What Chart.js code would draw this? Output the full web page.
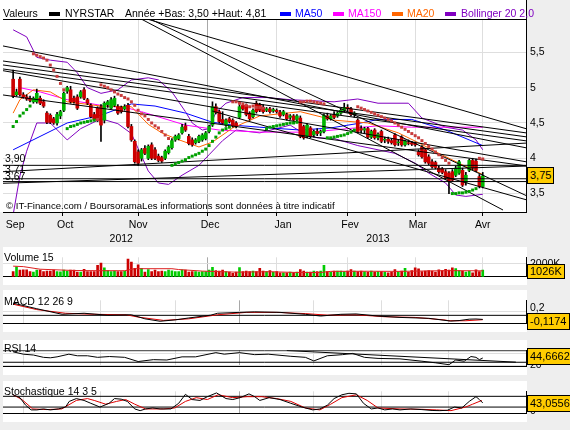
<!DOCTYPE html>
<html lang="fr">
<head>
<meta charset="utf-8">
<title>NYRSTAR</title>
<script src="https://cdn.jsdelivr.net/npm/chart.js@4.4.1/dist/chart.umd.min.js"></script>
<style>
  html, body { margin: 0; padding: 0; }
  body { background: #eeeeee; font-family: "Liberation Sans", Arial, sans-serif; }
  #page { position: relative; width: 570px; height: 430px; overflow: hidden; }
  .panel { position: absolute; background: #fff; }
  canvas { position: absolute; left: 0; }
  .lbl { position: absolute; font-size: 10.5px; line-height: 13px; white-space: nowrap; color: #000; z-index: 5; }
  .sw { position: absolute; top: 12px; width: 11px; height: 4px; z-index: 5; }
  .val { position: absolute; left: 527px; background: #ffcc00; border: 1px solid #000; font-size: 11px; line-height: 15px; padding: 0 2px; z-index: 6; white-space: nowrap; }
  .rule { position: absolute; background: #000; z-index: 4; }
</style>
</head>
<body>
<div id="page">
  <div class="panel" style="left:0;top:0;width:527px;height:212px"></div>
  <div class="panel" style="left:3px;top:247px;width:524px;height:38px"></div>
  <div class="panel" style="left:3px;top:290px;width:524px;height:42px"></div>
  <div class="panel" style="left:3px;top:340px;width:524px;height:35px"></div>
  <div class="panel" style="left:3px;top:381px;width:524px;height:41px"></div>

  <canvas id="main" width="570" height="247" style="top:0"></canvas>
  <canvas id="vol" width="570" height="40" style="top:247px"></canvas>
  <canvas id="macd" width="570" height="44" style="top:290px"></canvas>
  <canvas id="rsi" width="570" height="37" style="top:340px"></canvas>
  <canvas id="sto" width="570" height="43" style="top:381px"></canvas>

  <div class="rule" style="left:3px;top:19px;width:523px;height:1px"></div>
  <div class="rule" style="left:526px;top:0;width:1px;height:19px"></div>

  <div class="lbl" style="left:3px;top:7px">Valeurs</div>
  <div class="sw" style="left:49px;background:#000"></div>
  <div class="lbl" style="left:65px;top:7px">NYRSTAR</div>
  <div class="lbl" style="left:125px;top:7px">Année +Bas: 3,50 +Haut: 4,81</div>
  <div class="sw" style="left:280px;background:#0000ff"></div>
  <div class="lbl" style="left:295px;top:7px;color:#0000ff">MA50</div>
  <div class="sw" style="left:333px;background:#ff00ff"></div>
  <div class="lbl" style="left:348px;top:7px;color:#ff00ff">MA150</div>
  <div class="sw" style="left:392px;background:#ff6600"></div>
  <div class="lbl" style="left:407px;top:7px;color:#ff6600">MA20</div>
  <div class="sw" style="left:445px;background:#8000c0"></div>
  <div class="lbl" style="left:461px;top:7px;color:#8000c0">Bollinger 20 2,0</div>

  <div class="lbl" style="left:5px;top:152px">3,90</div>
  <div class="lbl" style="left:5px;top:163px">3,71</div>
  <div class="lbl" style="left:5px;top:170px">3,67</div>
  <div class="lbl" style="left:6px;top:199px;font-size:9.6px">© IT-Finance.com / BoursoramaLes informations sont données à titre indicatif</div>

  <div class="lbl" style="left:4px;top:251px">Volume 15</div>
  <div class="lbl" style="left:4px;top:295px">MACD 12 26 9</div>
  <div class="lbl" style="left:4px;top:342px">RSI 14</div>
  <div class="lbl" style="left:4px;top:385px">Stochastique 14 3 5</div>

  <div class="val" style="top:167px">3,75</div>
  <div class="val" style="top:264px;line-height:13px">1026K</div>
  <div class="val" style="top:313px">-0,1174</div>
  <div class="val" style="top:348px">44,6662</div>
  <div class="val" style="top:395px">43,0556</div>
</div>

<script>
// ---- data (index 0 = 26 Sep 2012, one step per trading day) ----
const monthStarts = [3, 26, 48, 67, 89, 109, 129];
const monthLabels = ['Sep', 'Oct', 'Nov', 'Dec', 'Jan', 'Fev', 'Mar', 'Avr'];
const monthCenters = [0.6, 15.4, 37, 58.3, 79.9, 99.7, 119.8, 139];
const yearLabels = ['2012', '2013'];
const yearCenters = [32, 108];

const opens = [5.12,4.90,5.12,4.90,4.87,4.85,4.80,4.80,4.85,4.80, 4.64,4.61,4.56,4.50,4.60,4.68,4.95,4.97,4.85,4.87,
  4.87,4.97,4.83,4.75,4.62,4.71,4.73,4.54,4.76,4.71, 4.75,4.73,4.72,4.70,4.75,4.45,4.24,4.09,4.00,4.14,
  4.00,4.19,4.12,4.03,4.01,4.00,4.08,4.15,4.26,4.28, 4.36,4.46,4.31,4.26,4.22,4.24,4.26,4.28,4.38,4.47,
  4.73,4.66,4.55,4.47,4.56,4.54,4.50,4.58,4.75,4.75, 4.64,4.59,4.78,4.76,4.72,4.68,4.70,4.67,4.68,4.65,
  4.62,4.62,4.58,4.60,4.55,4.57,4.45,4.31,4.43,4.33, 4.38,4.36,4.38,4.60,4.56,4.62,4.60,4.64,4.68,4.72,
  4.70,4.62,4.54,4.42,4.40,4.42,4.30,4.40,4.29,4.38, 4.26,4.27,4.25,4.33,4.22,4.30,4.19,4.22,4.22,4.21,
  4.09,4.16,4.12,4.02,3.95,3.94,3.86,3.85,3.81,3.79, 3.81,3.76,3.79,3.83,3.66,3.83,3.97,3.96,3.74,3.60];
const highs = [5.25,4.98,5.15,4.93,4.90,4.88,4.87,4.98,4.88,4.83, 4.66,4.63,4.58,4.65,4.68,4.94,5.02,5.02,4.88,4.90,
  4.96,5.00,4.85,4.77,4.65,4.73,4.76,4.80,4.82,4.86, 4.88,4.76,4.74,4.76,4.78,4.48,4.26,4.12,4.14,4.18,
  4.19,4.22,4.15,4.06,4.03,4.12,4.18,4.28,4.33,4.35, 4.48,4.50,4.34,4.29,4.28,4.33,4.35,4.38,4.47,4.80,
  4.77,4.68,4.66,4.56,4.58,4.56,4.52,4.76,4.78,4.77, 4.66,4.70,4.81,4.78,4.76,4.72,4.72,4.71,4.70,4.68,
  4.68,4.64,4.62,4.62,4.62,4.60,4.47,4.49,4.45,4.40, 4.42,4.40,4.63,4.64,4.62,4.66,4.66,4.70,4.78,4.76,
  4.72,4.66,4.56,4.46,4.44,4.44,4.40,4.42,4.36,4.40, 4.30,4.30,4.28,4.35,4.26,4.32,4.26,4.26,4.24,4.23,
  4.12,4.18,4.14,4.05,3.98,3.96,3.89,3.87,3.84,3.81, 3.84,3.89,3.97,3.86,3.80,3.99,4.00,3.99,3.77,3.80];
const lows = [4.86,4.88,4.88,4.85,4.82,4.80,4.78,4.78,4.76,4.72, 4.49,4.49,4.48,4.47,4.56,4.66,4.92,4.78,4.78,4.69,
  4.85,4.83,4.76,4.57,4.53,4.52,4.24,4.50,4.72,4.70, 4.73,4.62,4.64,4.68,4.43,4.24,3.93,3.90,3.96,4.05,
  3.98,3.98,3.98,3.95,3.94,3.98,4.06,4.13,4.24,4.26, 4.34,4.38,4.19,4.17,4.20,4.22,4.24,4.26,4.36,4.45,
  4.63,4.50,4.48,4.45,4.50,4.44,4.43,4.56,4.68,4.60, 4.54,4.57,4.64,4.66,4.64,4.66,4.64,4.65,4.64,4.58,
  4.60,4.54,4.55,4.52,4.53,4.29,4.27,4.29,4.29,4.30, 4.32,4.32,4.36,4.54,4.54,4.56,4.58,4.62,4.66,4.66,
  4.60,4.58,4.36,4.36,4.35,4.28,4.28,4.27,4.26,4.22, 4.22,4.21,4.20,4.17,4.18,4.17,4.17,4.19,4.18,4.17,
  4.03,4.00,3.93,3.91,3.86,3.85,3.79,3.78,3.70,3.50, 3.67,3.74,3.77,3.60,3.62,3.81,3.84,3.81,3.58,3.58];
const closes = [4.88,4.94,4.90,4.87,4.84,4.82,4.85,4.92,4.78,4.74, 4.51,4.51,4.50,4.62,4.66,4.92,5.00,4.80,4.80,4.71,
  4.94,4.85,4.78,4.59,4.55,4.54,4.47,4.78,4.80,4.83, 4.85,4.64,4.66,4.73,4.45,4.26,3.95,3.93,4.12,4.07,
  4.17,4.00,4.00,3.97,3.96,4.10,4.16,4.25,4.31,4.33, 4.44,4.40,4.21,4.19,4.26,4.31,4.33,4.36,4.45,4.73,
  4.65,4.52,4.50,4.54,4.52,4.46,4.45,4.73,4.70,4.62, 4.56,4.68,4.66,4.68,4.66,4.70,4.66,4.69,4.66,4.60,
  4.66,4.56,4.60,4.54,4.60,4.31,4.29,4.47,4.31,4.38, 4.35,4.38,4.61,4.56,4.60,4.58,4.64,4.68,4.72,4.70,
  4.62,4.64,4.38,4.40,4.42,4.30,4.38,4.29,4.34,4.24, 4.27,4.24,4.22,4.19,4.23,4.19,4.24,4.21,4.20,4.19,
  4.05,4.02,3.95,3.93,3.88,3.87,3.81,3.80,3.72,3.67, 3.69,3.86,3.95,3.62,3.76,3.97,3.86,3.83,3.60,3.75];

// parabolic SAR dots, one per day
const sar = [4.45,4.52,4.60,4.64,4.69,4.74, 5.48,5.46,5.44,5.42,5.39,5.32,5.25,5.16,5.06,4.97,
  4.42,4.45,4.46,4.48,4.50,4.51,4.52,4.53,4.54,4.55,
  5.04,5.02,5.00,4.97,4.94,4.91,4.89,4.86,4.84,4.80,4.75,4.68,4.63,4.60,4.55,4.50,4.46,4.43,4.38,4.33,4.28,
  3.90,3.92,3.94,3.96,3.98,4.01,4.03,4.05,4.07,4.10,4.13,4.18,4.24,4.30,4.36,4.40, 4.42,4.44,
  4.80,4.80,4.78,4.77,4.75,4.73,4.74,4.72,4.72,4.71,
  4.42,4.44,4.45,4.46,4.47,4.48,4.49,4.50,4.50,4.51,
  4.80,4.80,4.81,4.81,4.80,4.79,4.78,4.77,
  4.29,4.29,4.30,4.31,4.32,4.33,4.35,4.37,4.40,
  4.73,4.71,4.69,4.67,4.65,4.63,4.61,4.59,4.57,4.55,4.53,4.50,4.47,4.44,4.41,4.38,4.35,4.32,4.29,4.25,4.21,4.17,4.13,4.09,4.05,4.01,3.97,
  3.93, 3.50,3.50,3.51,3.51,3.52,3.53,3.55,3.57, 4.00,3.99];

// moving averages and bands, [day, price]
const ma20 = [[0,4.64],[2,4.83],[6,4.97],[11,4.94],[16,4.80],[26,4.74],[35,4.73],[40,4.48],[44,4.36],[48,4.28],[55,4.16],
  [59,4.23],[65,4.43],[73,4.60],[85,4.66],[95,4.54],[105,4.50],[114,4.36],[120,4.22],[126,4.07],[132,3.93],[139,3.77]];
const ma50 = [[0,4.12],[16,4.50],[26,4.61],[35,4.77],[42,4.74],[51,4.64],[59,4.51],[65,4.47],[73,4.44],[85,4.40],
  [94,4.43],[103,4.50],[108,4.55],[118,4.55],[128,4.40],[139,4.18]];
const ma150 = [[2,5.00],[8,4.94],[16,4.83],[26,4.75],[34,4.71],[38,4.66],[51,4.47],[61,4.40],[73,4.37],[88,4.37],
  [108,4.46],[118,4.44],[139,4.44]];
const bollUpper = [[0,5.82],[4,5.72],[7,5.43],[11,5.39],[16,5.36],[19,5.21],[22,5.00],[26,4.92],[31,4.97],[35,5.11],
  [40,5.14],[43,5.11],[47,4.94],[51,4.66],[53,4.50],[56,4.40],[58,4.42],[60,4.65],[63,4.78],[68,4.86],[75,4.86],
  [82,4.83],[95,4.80],[102,4.84],[108,4.78],[117,4.78],[121,4.57],[128,4.44],[133,4.40],[137,4.26],[139,4.12]];
const bollLower = [[0,3.20],[2,3.75],[4,4.10],[7,4.50],[11,4.50],[16,4.26],[20,4.42],[26,4.56],[31,4.49],[35,4.35],
  [40,3.82],[43,3.65],[46,3.63],[50,3.76],[55,3.90],[58,4.05],[62,4.25],[66,4.40],[73,4.36],[82,4.47],[86,4.35],
  [90,4.29],[95,4.28],[102,4.18],[108,4.12],[113,4.07],[119,3.93],[123,3.79],[128,3.65],[131,3.48],[134,3.46],[139,3.49]];

// hand drawn trend lines [day0, price0, day1, price1] and horizontal supports
const trendLines = [
  [37.9,5.973,145,3.267], [40.5,5.973,152.1,3.466], [39.6,5.973,152.1,4.415],
  [-3,5.591,152.1,4.146], [-3,5.378,152.1,4.358], [-3,5.322,152.1,4.302], [-3,5.265,152.1,4.245],
  [-3,4.897,152.1,3.891], [-3,5.241,152.1,3.948], [58.9,4.67,152.1,3.409],
  [-3,3.81,152.1,4.216], [-3,3.646,152.1,3.89]
];
const supports = [3.90, 3.71, 3.67];

// volume in thousands, plus its 15 day average
const volumes = [780,1500,1000,1050,1050,780,700,1000,1000,780, 850,850,1000,780,730,1000,870,1000,1000,700,
  700,1150,780,780,780,1750,2100,1350,950,780, 850,780,780,870,2700,2250,1300,1830,1300,700,
  1100,780,1000,780,850,780,1000,900,780,780, 1050,1000,700,780,780,700,780,780,1000,1450,
  950,850,1000,780,700,500,700,1400,780,850, 780,870,780,1300,850,780,950,700,780,600,
  600,600,700,600,700,1100,870,700,700,870, 780,850,1750,780,700,870,870,870,780,870,
  1100,870,780,870,780,700,870,700,780,780, 700,600,700,1100,780,870,1300,700,950,1350,
  1200,780,870,950,870,700,1050,950,1150,1000, 1350,1250,950,870,700,870,600,1050,780,1026];
const volAvg = [[0,1620],[3,1550],[8,1150],[18,950],[26,920],[33,920],[36,1230],[47,1230],[49,1100],[56,860],
  [66,700],[76,760],[84,650],[91,650],[94,820],[104,840],[114,820],[129,930],[139,900]];

const macdLine = [[0,0.35],[7,0.19],[14.5,0.03],[21,0.06],[26,0.02],[28,0.005],[35,0.016],[39,-0.10],[43.5,-0.17],
  [48,-0.13],[52,-0.075],[58.5,0.005],[60.5,0.06],[67,0.085],[71.5,0.10],[79,0.085],[86.5,0.03],[91,-0.02],
  [97,0.03],[101.5,0.04],[108,-0.02],[114.5,-0.06],[123,-0.085],[129.5,-0.165],[132,-0.15],[135,-0.11],[137,-0.105],[139,-0.117]];
const macdSignal = [[0,0.32],[7,0.165],[15.5,0.06],[24,0.03],[33.5,0.016],[37,-0.05],[44.5,-0.145],[52,-0.10],
  [60.5,0.016],[69,0.085],[78,0.085],[86.5,0.05],[93,0.005],[101.5,0.016],[110,-0.04],[119,-0.06],[127.5,-0.13],
  [129,-0.155],[134,-0.155],[139,-0.125]];

const rsi = [[0,66],[3,57.9],[6,55],[9,47],[11,45.4],[13,48.7],[16.5,57.9],[19,52.4],[22,52.4],[25,47],[28.5,49.8],
  [33,47],[37,32.5],[41.5,39],[45.5,37.8],[50,48.7],[54,48.7],[60,63.2],[62.5,57.9],[67,63.2],[71.5,56.3],[75.5,57.9],
  [82,50.8],[86.5,47],[89,34.6],[93,52.4],[97.5,56.3],[100.5,60.5],[104,47],[108,43.3],[114.5,41.7],[121,33.6],
  [125,28.1],[129,21.6],[131,37.8],[133.5,33.6],[135.5,49.8],[137,47],[138,39],[139,44.67]];
const rsiTrend = [[81,70.5],[148.8,30.4]];
const rsiLevels = [70, 30];

const stochK = [[0,88.5],[2,72.6],[3.7,30.5],[5.3,4.2],[7,4.2],[9,9.5],[11,4.2],[13.4,9.5],[15.5,20],[16.6,51.6],
  [18.7,67.4],[21,57],[23,41],[25.7,20],[28.4,41],[30,67.4],[32,64],[33.8,51.6],[36,9.5],[37.6,0],[39.2,9.5],
  [41.3,15],[43.5,9.5],[46.7,9.5],[49,41],[51,91],[53,62],[55.3,57],[57.5,78],[60.2,99],[63,67.4],[65,62],
  [67.2,72.6],[69.8,93.6],[71.5,78],[73,57],[75.8,72.6],[79,62],[82.2,41],[85.5,20],[88.7,4.2],[90.8,9.5],
  [93,30.5],[95,67.4],[97.3,88.5],[99.4,96.8],[101.6,93.6],[103.7,41],[106,9.5],[108,15],[110,4.2],[112.3,9.5],
  [114.5,4.2],[117.7,9.5],[121,6],[124,1],[126.3,0],[128.5,2],[130.6,20],[132.8,15],[135,51.6],[137,78],[138,62],[139,43.06]];
const stochD = [[0,88.5],[2.6,62],[5.8,9.5],[10,6],[14.4,9.5],[18.7,57],[22,67.4],[24,57],[27.4,36],[30.6,51.6],
  [33.3,62],[36,36],[39.2,9.5],[44.6,9.5],[47.8,15],[51,51.6],[54.2,72.6],[57.5,62],[60.7,88.5],[65,72.6],
  [69.3,78],[73.6,78],[78,67.4],[82.2,51.6],[86.5,15],[90.8,4.2],[94,36],[97.3,72.6],[101.6,88.5],[104.8,57],
  [108,15],[114.5,9.5],[121,7.5],[125.3,4.2],[129.6,0],[133.9,20],[136,36],[138.7,57]];
const stochLevels = [80, 20];

// ---- styling ----
const X_MIN = -3, X_MAX = 151.8;
const YEAR_START = 67;
const GRID = '#dedede';
const UP = '#00b400', DOWN = '#cc0000';

Chart.defaults.font.family = '"Liberation Sans", Arial, sans-serif';
Chart.defaults.font.size = 10.5;
Chart.defaults.color = '#000';

function gridColor(ctx) {
    if (!ctx.tick) return GRID;
    return ctx.tick.value === YEAR_START ? '#a8a8a8' : GRID;
}

function timeAxis(extra) {
    return Object.assign({
        type: 'linear', position: 'bottom', min: X_MIN, max: X_MAX, offset: false, weight: 0,
        afterBuildTicks: s => { s.ticks = monthStarts.map(v => ({ value: v })); },
        afterFit: s => { s.height = 0; },
        ticks: { display: false },
        grid: { color: gridColor, drawTicks: false },
        border: { display: true, color: '#000', width: 1 }
    }, extra || {});
}

function labelAxis(values, names, height, padding, weight) {
    return {
        type: 'linear', position: 'bottom', min: X_MIN, max: X_MAX, offset: false, weight: weight,
        afterBuildTicks: s => { s.ticks = values.map(v => ({ value: v })); },
        afterFit: s => { s.height = height; },
        ticks: { autoSkip: false, maxRotation: 0, minRotation: 0, padding: padding, callback: (v, i) => names[i] },
        grid: { display: false, drawTicks: false },
        border: { display: false }
    };
}

function sideAxis(min, max, tickVals, fmt, gridVals) {
    return {
        type: 'linear', position: 'right', min: min, max: max,
        afterBuildTicks: s => { s.ticks = tickVals.map(v => ({ value: v })); },
        afterFit: s => { s.width = 44; },
        ticks: { autoSkip: false, padding: 4, callback: fmt },
        grid: {
            drawTicks: false,
            color: c => (c.tick && gridVals.indexOf(c.tick.value) >= 0) ? GRID : 'rgba(0,0,0,0)'
        },
        border: { color: '#000', width: 1 }
    };
}

function commaNum(v) { return String(v).replace('.', ','); }

function lineDs(points, color) {
    return {
        type: 'line', data: points.map(p => ({ x: p[0], y: p[1] })),
        borderColor: color, borderWidth: 1, pointRadius: 0, tension: 0, fill: false
    };
}

function levelDs(level) {
    return lineDs([[X_MIN, level], [X_MAX, level]], '#000');
}

function options(scales, padding) {
    return {
        responsive: false, animation: false, events: [], devicePixelRatio: 1,
        layout: { padding: padding, autoPadding: false },
        plugins: { legend: { display: false }, tooltip: { enabled: false } },
        scales: scales
    };
}

const isUp = i => closes[i] >= opens[i];

// ---- price panel ----
const priceTicks = [3.25, 3.5, 3.75, 4, 4.25, 4.5, 4.75, 5, 5.25, 5.5, 5.75];
new Chart(document.getElementById('main'), {
    type: 'line',
    data: {
        datasets: [
            {
                type: 'line', showLine: false,
                data: sar.map((v, i) => ({ x: i, y: v })),
                pointStyle: 'rect', pointRadius: 2.1, pointBorderWidth: 0,
                pointBackgroundColor: c => sar[c.dataIndex] > closes[c.dataIndex] ? '#c83c3c' : '#00a000'
            },
            ...trendLines.map(t => lineDs([[t[0], t[1]], [t[2], t[3]]], '#000')),
            ...supports.map(levelDs),
            {
                type: 'bar', grouped: false, barThickness: 3, borderWidth: 0,
                data: closes.map((c, i) => ({ x: i, y: [opens[i], c] })),
                backgroundColor: c => isUp(c.dataIndex) ? UP : DOWN
            },
            {
                type: 'bar', grouped: false, barThickness: 1, borderWidth: 0,
                data: closes.map((c, i) => ({ x: i, y: [lows[i], highs[i]] })),
                backgroundColor: '#000'
            },
            lineDs(ma20, '#ff6600'),
            lineDs(ma50, '#0000ff'),
            lineDs(ma150, '#ff00ff'),
            lineDs(bollUpper, '#8000c0'),
            lineDs(bollLower, '#8000c0')
        ]
    },
    options: options({
        x: timeAxis({
            afterFit: s => { s.height = 4; },
            grid: { color: gridColor, drawTicks: true, tickLength: 4, tickColor: '#000' }
        }),
        xm: labelAxis(monthCenters, monthLabels, 15, 3, 1),
        xy: labelAxis(yearCenters, yearLabels, 16, 2, 2),
        y: sideAxis(3.239, 5.973, priceTicks, v => (v * 2) % 1 === 0 ? commaNum(v) : '', [3.5, 4, 4.5, 5, 5.5])
    }, { top: 19, left: 3, right: 0, bottom: 0 })
});

// ---- volume ----
new Chart(document.getElementById('vol'), {
    type: 'line',
    data: {
        datasets: [
            lineDs(volAvg, '#dd2020'),
            {
                type: 'bar', grouped: false, barThickness: 2, borderWidth: 0,
                data: volumes.map((v, i) => ({ x: i, y: v })),
                backgroundColor: c => isUp(c.dataIndex) ? '#00cc00' : '#cc0000'
            }
        ]
    },
    options: options({
        x: timeAxis(),
        y: sideAxis(0, 2980, [1000, 2000], v => v + 'K', [2000])
    }, { top: 0, left: 3, right: 0, bottom: 2 })
});

// ---- MACD ----
new Chart(document.getElementById('macd'), {
    type: 'line',
    data: {
        datasets: [
            lineDs(macdLine, '#000'),
            lineDs(macdSignal, '#dd0000'),
            levelDs(0)
        ]
    },
    options: options({
        x: timeAxis(),
        y: sideAxis(-0.24, 0.432, [-0.2, -0.1, 0, 0.1, 0.2, 0.3],
            v => Math.abs(v) === 0.2 ? commaNum(v) : '', [0.1])
    }, { top: 0, left: 3, right: 0, bottom: 2 })
});

// ---- RSI ----
new Chart(document.getElementById('rsi'), {
    type: 'line',
    data: {
        datasets: [
            lineDs(rsi, '#000'),
            lineDs(rsiTrend, '#000'),
            ...rsiLevels.map(levelDs)
        ]
    },
    options: options({
        x: timeAxis(),
        y: sideAxis(14.66, 71.3, [20, 30, 40, 50, 60, 70], v => (v === 60 || v === 20) ? String(v) : '', [60, 20])
    }, { top: 0, left: 3, right: 0, bottom: 2 })
});

// ---- Stochastique ----
new Chart(document.getElementById('sto'), {
    type: 'line',
    data: {
        datasets: [
            lineDs(stochK, '#000'),
            lineDs(stochD, '#dd0000'),
            ...stochLevels.map(levelDs)
        ]
    },
    options: options({
        x: timeAxis(),
        y: sideAxis(-17, 108, [0, 50], v => v === 0 ? '0' : '', [])
    }, { top: 0, left: 3, right: 0, bottom: 2 })
});
</script>
</body>
</html>
